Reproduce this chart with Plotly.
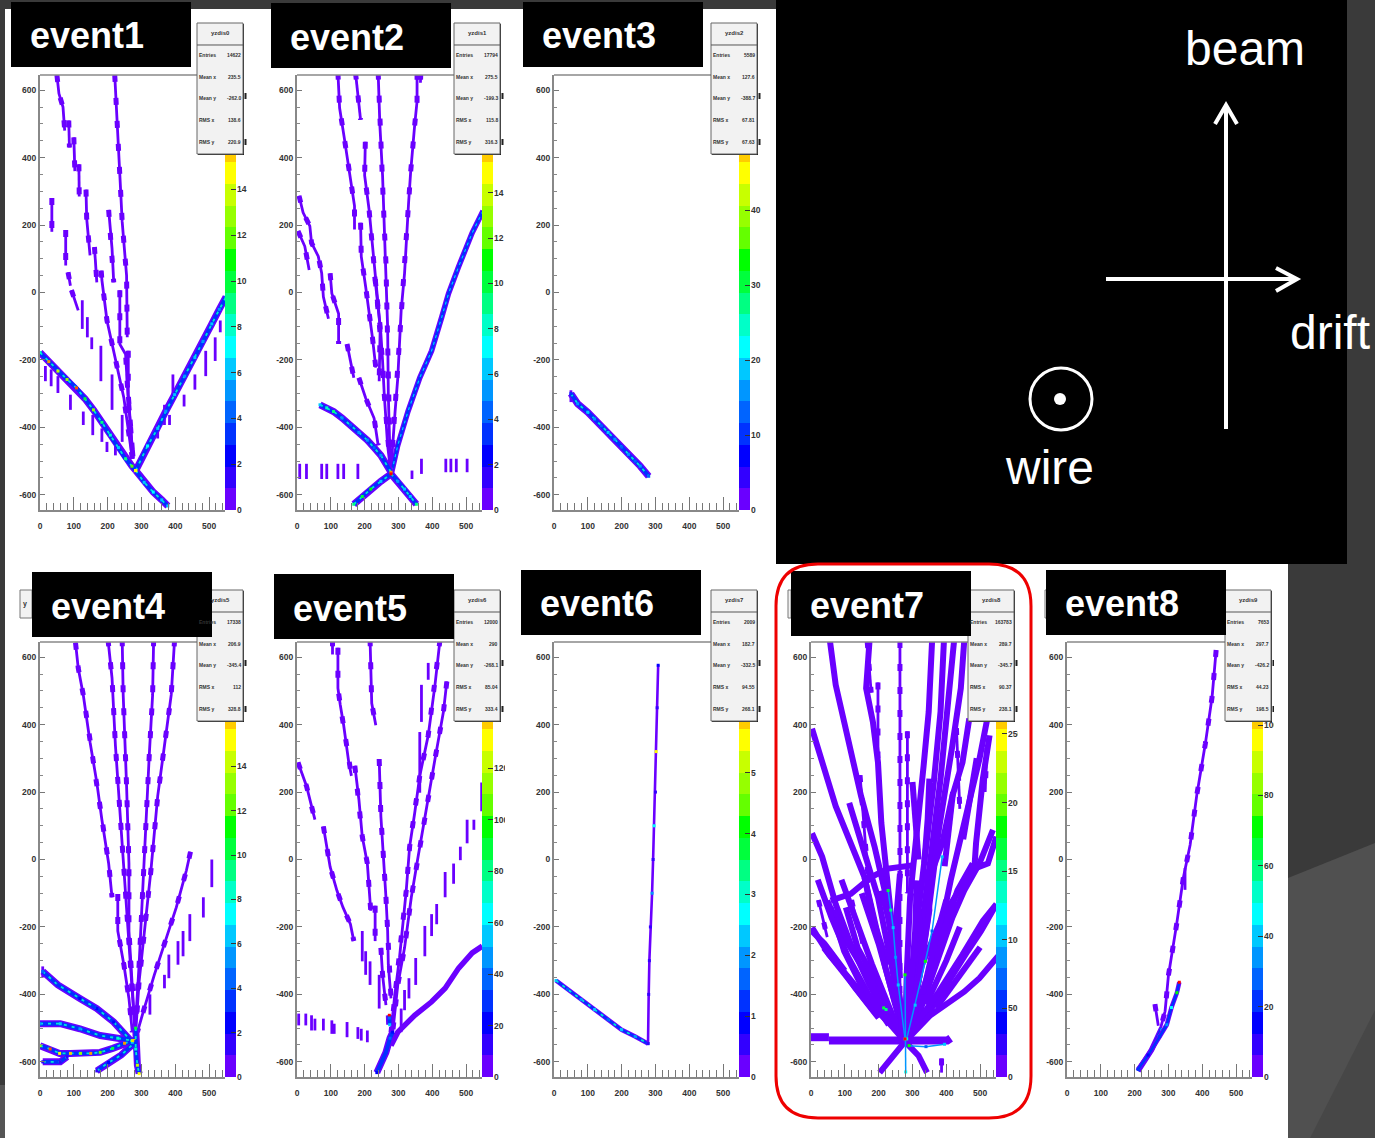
import plotly.graph_objects as go

W, H = 1375, 1138
PURPLE = "#6a00ff"
PALETTE = ["#6a00ff","#3200ff","#0000ff","#0032ff","#0064ff","#0096ff","#00c8ff","#00ffff",
           "#00ffc8","#00ff82","#00ff3c","#00ff00","#64ff00","#96ff00","#c8ff00","#ffff00",
           "#ffcc00","#ff9600","#ff5000","#ff0000"]

event_names = ["event1","event2","event3","event4","event5","event6","event7","event8"]
stat_titles = ["yzdis0","yzdis1","yzdis2","yzdis5","yzdis6","yzdis7","yzdis8","yzdis9"]
stat_labels = ["Entries","Mean x","Mean y","RMS x","RMS y"]
stat_entries = ["14622","17794","5589","17338","12000","2009","163783","7653"]
stat_mean_x = ["235.5","275.5","127.6","206.9","290","182.7","289.7","297.7"]
stat_mean_y = ["-262.0","-199.3","-388.7","-345.4","-268.1","-332.5","-345.7","-426.2"]
stat_rms_x = ["138.6","115.8","67.81","112","85.04","94.55","90.37","44.23"]
stat_rms_y = ["220.9","316.3","67.63","328.8","333.4","268.1","238.1","198.5"]

x_ticks = [0,100,200,300,400,500]
y_ticks = [-600,-400,-200,0,200,400,600]
cb_max = [19,19.2,58,19.6,169,7.15,317,123.6]
cb_ticks = [[0,2,4,6,8,10,12,14],[0,2,4,6,8,10,12,14],[0,10,20,30,40],
            [0,2,4,6,8,10,12,14],[0,20,40,60,80,100,120],[0,1,2,3,4,5],
            [0,50,100,150,200,250],[0,20,40,60,80,100]]

# ---- thin tracks (x, y) --------------------------------------------------
event1_tracks = [
 [(50,645),(56,590),(68,550),(73,480)],[(85,510),(87,430)],[(100,460),(103,360)],[(115,380),(116,285)],
 [(136,305),(138,220),(148,110)],[(161,135),(168,30)],[(181,65),(183,37),(198,-83),(223,-193),(248,-313),(273,-493)],
 [(221,645),(228,490),(236,350),(243,210),(256,50),(258,-133)],[(261,-173),(261,-303),(275,-493)],
 [(203,245),(213,130),(218,30)],[(236,7),(236,-153),(253,-183),(260,-303),(275,-490)],
 [(35,280),(35,180)],[(76,185),(76,80)],[(83,60),(90,20)],[(93,7),(113,-53)]]
event1_dashes = [(125,-23,-108),(140,-73,-133),(153,-133,-168),(180,-158,-263),(213,-243,-348),(243,-363,-443),
 (16,-218,-263),(33,-228,-278),(53,-248,-298),(90,-303,-348),(128,-353,-393),(156,-363,-423),(183,-403,-443),(198,-443,-473),(223,-453,-483),
 (393,-243,-303),(426,-303,-338),(458,-243,-288),(490,-173,-248),(518,-133,-203),(533,-83,-118),(368,-333,-393),(348,-403,-433),(383,-363,-393)]
event1_heavy = [[(0,-178,8),(26,-205,17),(53,-233,14),(80,-258,13),(108,-283,18),(133,-315,10),(158,-348,13),(183,-385,9),(208,-423,8),(232,-460,6),(253,-493,9),(272,-515,12),(283,-528,15)],
 [(283,-528,15),(308,-563,6),(335,-592,7),(360,-615,6),(378,-633,6)],
 [(283,-528,15),(318,-455,7),(348,-403,6),(372,-352,5),(398,-303,6),(428,-248,5),(458,-193,6),(482,-145,5),(508,-93,6),(530,-50,5),(550,-13,5)]]

event2_tracks = [
 [(121,652),(126,547),(140,457),(154,357),(170,257),(170,187)],[(173,652),(183,567),(188,512)],
 [(202,447),(200,347),(213,247),(225,117),(233,37),(240,-33),(248,-123),(253,-203),(258,-303),(268,-453),(276,-523)],
 [(240,652),(245,497),(253,347),(258,197),(263,87),(268,-103),(270,-303),(276,-523)],
 [(355,652),(355,567),(348,497),(340,417),(336,357),(330,267),(323,157),(318,57),(308,-53),(298,-253),(290,-353),(278,-523)],
 [(366,652),(365,622)],
 [(188,207),(190,107),(203,17),(213,-53),(223,-133),(233,-223)],
 [(230,47),(238,-23),(246,-103),(243,-263)],
 [(6,287),(18,237),(38,197),(43,147),(63,107),(73,57),(78,-13),(93,-78)],
 [(3,182),(23,137),(36,67)],
 [(98,57),(103,-3),(123,-63),(123,-153)],[(148,-153),(168,-253)],[(183,-253),(203,-313),(228,-373),(240,-453)]]
event2_dashes = [(8,-508,-553),(28,-508,-553),(73,-508,-553),(88,-508,-553),(121,-508,-553),(138,-508,-553),(180,-508,-553),
 (340,-528,-553),(368,-493,-538),(440,-493,-533),(455,-493,-533),(471,-493,-533),(503,-493,-533),(553,-493,-533)]
event2_heavy = [[(68,-333,6),(88,-342,8),(108,-353,9),(133,-372,5),(158,-393,4),(183,-415,5),(208,-438,5),(228,-460,4),(248,-483,5),(278,-533,17)],
 [(168,-628,9),(193,-605,10),(218,-583,11),(248,-560,6),(278,-538,19),(298,-560,5),(318,-583,6),(335,-605,6),(353,-628,9)]]
event2_light = [[(550,242),(518,177),(478,77),(448,-3),(428,-73),(398,-173),(363,-253),(328,-353),(298,-453),(280,-533)]]

event3_tracks = []
event3_dashes = [(50,-290,-325)]
event3_heavy = [[(50,-300,3),(70,-330,5),(100,-355,6),(120,-375,5),(140,-395,4),(160,-415,6),(180,-435,5),(200,-458,4),(220,-480,5),(240,-500,4),(255,-515,5),(280,-545,4)]]

event4_tracks = [
 [(105,643),(113,568),(128,488),(148,348),(168,228),(183,118),(203,-12),(213,-112)],
 [(230,-102),(230,-212),(248,-312),(263,-412),(273,-512)],
 [(201,653),(213,538),(223,338),(233,188),(243,58),(253,-112),(263,-232),(273,-392),(281,-512)],
 [(243,653),(246,488),(256,218),(263,-12),(263,-212),(275,-392),(281,-512)],
 [(336,653),(333,488),(323,308),(313,88),(303,-112),(293,-312),(281,-512)],
 [(398,653),(388,488),(368,338),(348,188),(328,-32),(308,-212),(293,-362),(283,-512)],
 [(445,23),(433,-32),(403,-142),(373,-232),(338,-342),(308,-442),(288,-512)]]
event4_dashes = [(508,0,-82),(483,-112,-172),(443,-162,-242),(423,-212,-287),(408,-242,-312),(381,-282,-352),(368,-342,-382),(8,-317,-350),(325,-400,-460)]
event4_heavy = [[(8,-332,4),(53,-372,3),(118,-412,2),(168,-442,2),(218,-482,2),(273,-542,6)],
 [(0,-487,5),(60,-487,6),(118,-502,5),(178,-522,3),(230,-530,8),(273,-537,14)],
 [(0,-552,13),(30,-562,18),(58,-575,15),(90,-575,16),(120,-575,13),(150,-575,17),(178,-572,12),(215,-560,10),(250,-545,17),(278,-537,16)],
 [(8,-600,1),(60,-600,1),(80,-585,1)],[(168,-627,1),(203,-602,2),(240,-580,1),(283,-540,3)],
 [(283,-500,10),(283,-562,8),(288,-610,14),(293,-635,15)]]

event5_tracks = [
 [(105,653),(105,608)],[(121,628),(121,508),(128,458),(138,398),(153,288),(161,248)],
 [(171,278),(183,178),(193,68),(208,-12),(218,-152)],
 [(216,653),(221,463),(233,398)],[(243,298),(248,128),(263,-112),(268,-212),(270,-312),(278,-412)],
 [(231,-137),(231,-242)],[(248,-262),(253,-342),(263,-432)],
 [(3,288),(28,218),(53,118)],[(78,98),(98,-22),(118,-92),(136,-142),(158,-192),(168,-242)],
 [(423,653),(408,518),(388,368),(363,248),(348,138),(333,38),(323,-92),(303,-292),(288,-412),(278,-512)],
 [(443,528),(433,438),(408,298),(383,158),(358,8),(338,-112),(318,-262),(298,-372),(283,-512)]]
event5_dashes = [(193,-212,-302),(203,-272,-342),(216,-302,-372),(243,-342,-442),
 (368,518,408),(363,378,198),(388,583,533),(546,228,143),(523,118,88),(503,118,48),(483,38,-2),(463,-12,-72),(438,-37,-112),(413,-132,-192),(398,-162,-227),(378,-197,-287),(351,-292,-372),(331,-352,-412),(318,-387,-447),(308,-442,-512),
 (5,-457,-492),(26,-457,-492),(43,-462,-507),(53,-472,-507),(78,-472,-507),(103,-477,-517),(110,-487,-517),(148,-482,-527),(180,-497,-532),(190,-502,-537),(208,-507,-542)]
event5_wide = [[(548,-257),(518,-277),(478,-322),(438,-382),(398,-422),(348,-462),(298,-512),(278,-552)]]
event5_heavy = [[(236,-632,2),(250,-600,3),(263,-572,3),(275,-530,4),(283,-512,2)],[(273,-462,19),(273,-470,4),(274,-490,6)]]

event6_light = []
event6_heavy = [[(6,-359,6),(40,-385,4),(80,-415,5),(120,-445,6),(160,-475,4),(200,-505,6),(240,-525,5),(278,-546,4)]]
event6_thin_core = [[(308,576,2),(305,450,1),(302,320,15),(300,200,1),(296,100,7),(293,0,1),(290,-100,5),(285,-200,1),(282,-300,1),(280,-400,1),(278,-546,1)]]

event7_tracks = [
 [(263,648),(263,-540)],[(285,380),(285,-100)],
 [(166,648),(178,495)],[(198,525),(198,300)],[(145,250),(170,-70)],[(22,-120),(48,-230)],[(386,-590),(386,-632)],
 [(120,-120),(150,-250)],[(70,-150),(100,-230)],[(430,390),(440,150)],[(520,330),(515,200)]]
event7_wide = [
 [(3,388),(73,158),(158,-52),(218,-312),(278,-540)],
 [(56,648),(73,518),(98,408),(123,288),(148,188),(188,38),(218,-92),(248,-312),(278,-540)],
 [(173,648),(163,508),(183,408),(198,288),(208,108),(218,-2),(238,-182),(258,-372),(278,-540)],
 [(113,168),(143,68),(173,-22),(198,-112),(238,-312),(278,-540)],
 [(358,648),(348,438),(333,278),(313,88),(293,-112),(283,-342),(278,-540)],
 [(393,648),(383,438),(363,228),(338,28),(313,-192),(293,-412),(278,-540)],
 [(423,648),(403,418),(383,238),(358,38),(328,-182),(298,-432),(278,-540)],
 [(453,648),(443,508),(418,338),(398,208),(378,88),(343,-192),(308,-432),(278,-540)],
 [(533,478),(498,298),(453,108),(413,-62),(368,-282),(308,-472),(278,-540)],
 [(468,418),(448,288),(418,188),(388,48),(348,-62),(320,-300),(278,-540)],
 [(528,368),(508,238),(488,48),(483,-27),(438,-92),(388,-172),(328,-312),(278,-540)],
 [(548,68),(523,-12),(483,-27)],
 [(538,88),(498,-12),(453,-92),(418,-172),(373,-302),(318,-462),(278,-540)],
 [(543,-142),(503,-212),(463,-272),(413,-352),(363,-432),(278,-540)],
 [(548,-132),(508,-182),(448,-282),(378,-392),(308,-492)],
 [(478,-12),(433,-92),(398,-192),(358,-312),(318,-432),(278,-540)],
 [(3,78),(33,8),(73,-132),(118,-252),(173,-372),(228,-472),(278,-540)],
 [(3,-202),(53,-282),(113,-352),(178,-432),(228,-482),(278,-540)],
 [(48,-122),(93,-222),(153,-322),(213,-412),(278,-540)],
 [(158,-52),(188,-192),(228,-312)],
 [(103,-142),(138,-262),(198,-372),(278,-540)],
 [(58,-142),(98,-272),(158,-392),(238,-482)],
 [(38,-262),(108,-352),(188,-452)],
 [(208,-92),(233,-192),(253,-312)],
 [(263,-42),(253,-162),(263,-352)],
 [(313,-62),(308,-212),(293,-412)],
 [(58,-122),(118,-102),(178,-52),(228,-27),(303,-17)],
 [(553,-287),(498,-352),(453,-392),(408,-422),(353,-462),(278,-540)],
 [(203,-632),(243,-582),(278,-540),(318,-582),(343,-632)],
 [(20,-60),(60,-170),(110,-290),(170,-400),(230,-490)],
 [(90,-60),(130,-170),(180,-310),(240,-460)],
 [(150,-100),(200,-250),(250,-430)],
 [(310,-100),(330,-250),(300,-460)],
 [(340,-30),(350,-150),(320,-350),(290,-500)],
 [(400,-120),(370,-230),(330,-400)],
 [(440,-200),(400,-300),(340,-430)],
 [(500,-260),(440,-340),(370,-440)],
 [(0,-210),(40,-250),(100,-330)],
 [(60,-280),(130,-380),(200,-470)],
 [(420,200),(405,80),(395,-20)],
 [(490,300),(470,170),(450,60)],
 [(350,240),(345,120),(335,-10)],
 [(300,230),(310,100),(318,0)]]
event7_band = [[(0,-527),(53,-527)],[(53,-537),(278,-537),(403,-537),(413,-530)]]
event7_heavy = [[(228,-92,10),(236,-150,9),(243,-202,6),(250,-290,5),(258,-372,6),(278,-532,8)],
 [(388,8,6),(358,-212,4),(338,-302,11),(308,-432,6),(283,-532,8)],
 [(278,-342,11),(278,-532,19),(280,-630,7)],[(215,-440,10),(222,-445,9)],
 [(290,-552,11),(340,-555,4),(395,-548,6)]]

event8_tracks = [[(441,621),(429,482),(409,343),(384,193),(364,43),(344,-54),(324,-193),(300,-343),(290,-450),(270,-525)],
 [(260,-429),(270,-493)]]
event8_dashes = [(349,-25,-90)]
event8_light = [[(280,-500),(250,-565),(210,-627)]]
event8_heavy = [[(332,-364,19),(325,-395,11),(309,-439,7),(295,-490,5),(274,-525,3),(240,-580,2),(210,-622,3)]]

panel_tracks = [event1_tracks,event2_tracks,event3_tracks,event4_tracks,event5_tracks,[],event7_tracks,event8_tracks]
panel_dashes = [event1_dashes,event2_dashes,event3_dashes,event4_dashes,event5_dashes,[],[],event8_dashes]
panel_light = [[],event2_light,[],[],[],event6_light,[],event8_light]
panel_wide = [[],[],[],[],event5_wide,[],event7_wide,[]]
panel_band = [[],[],[],[],[],[],event7_band,[]]
panel_heavy = [event1_heavy,event2_heavy,event3_heavy,event4_heavy,event5_heavy,event6_heavy,event7_heavy,event8_heavy]
panel_thin_core = [[],[],[],[],[],event6_thin_core,[],[]]

# ---- layout geometry (pixels of the page) -------------------------------
AX_LEFT = [40,297,554,40,297,554,811,1067]
AX_TOP = [75,75,75,642,642,642,642,642]
AX_W, AX_H, CB_W = 185, 435, 11
BOX_LEFT = [197,454,711,197,454,711,968,1225]
BOX_TOP = [23,23,23,590,590,590,590,590]
LABEL_BOX = [(11,2),(271,3),(523,2),(32,572),(274,574),(521,570),(791,571),(1046,570)]

def px(v): return v / W
def py(v): return 1 - v / H
def rect(x0, y0, x1, y1, fill, line=None, lw=0, layer="above"):
    return dict(type="rect", xref="paper", yref="paper", x0=px(x0), x1=px(x1), y0=py(y0), y1=py(y1),
                fillcolor=fill, line=dict(color=line or fill, width=lw), layer=layer)
def seg(points, color, lw):
    xs, ys = [p[0] for p in points], [p[1] for p in points]
    return dict(type="path", xref="paper", yref="paper", layer="above",
                path="M" + " L".join(f"{px(a):.5f},{py(b):.5f}" for a, b in zip(xs, ys)),
                line=dict(color=color, width=lw))

shapes, annos = [], []
def text(x, y, s, size, color="black", bold=False, anchor="center", font="Liberation Sans"):
    annos.append(dict(xref="paper", yref="paper", x=px(x), y=py(y), text=f"<b>{s}</b>" if bold else s,
                      showarrow=False, xanchor=anchor, yanchor="middle", borderpad=0, borderwidth=0,
                      font=dict(family=font, size=size, color=color)))

# backgrounds
shapes += [rect(0,1085,1288,1138,"#555555",layer="below"),
           rect(5,9,776,564,"white",layer="below"),
           rect(5,564,1288,1138,"white",layer="below")]
shapes.append(dict(type="path", xref="paper", yref="paper", layer="below",
    path=f"M{px(1288)},{py(878)} L{px(1375)},{py(843)} L{px(1375)},{py(1138)} L{px(1288)},{py(1138)} Z",
    fillcolor="#505050", line=dict(width=0)))
shapes.append(dict(type="path", xref="paper", yref="paper", layer="below",
    path=f"M{px(1375)},{py(1010)} L{px(1310)},{py(1138)} L{px(1375)},{py(1138)} Z",
    fillcolor="#474747", line=dict(width=0)))
shapes.append(rect(776,0,1347,564,"black",layer="below"))

fig = go.Figure()
layout_axes = {}
n = len(event_names)

def add_line(points_list, ax, color, lw, dash=None):
    xs, ys = [], []
    for pts in points_list:
        xs += [p[0] for p in pts] + [None]
        ys += [p[1] for p in pts] + [None]
    if xs:
        fig.add_trace(go.Scatter(x=xs, y=ys, mode="lines", line=dict(color=color, width=lw, dash=dash),
                                 hoverinfo="skip", showlegend=False, **ax))

TICKFONT = dict(family="Liberation Sans", size=8.5, color="#333333", weight="bold")
for i in range(n):
    a, b = 2*i+1, 2*i+2
    ax = dict(xaxis=f"x{a}", yaxis=f"y{a}")
    x0, y0 = AX_LEFT[i], AX_TOP[i]
    layout_axes[f"xaxis{a}"] = dict(domain=[px(x0), px(x0+AX_W)], range=[0,547], anchor=f"y{a}", mirror=False, automargin=False,
        tickmode="array", tickvals=x_ticks, ticktext=[str(v) for v in x_ticks], ticks="inside", ticklen=13, tickwidth=1.2,
        tickcolor="#777777", showline=True, linecolor="#888888", linewidth=2, showgrid=False, zeroline=False,
        minor=dict(dtick=20, ticks="inside", ticklen=7, tickwidth=1.2, tickcolor="#777777", showgrid=False),
        ticklabelstandoff=7, tickfont=TICKFONT, layer="above traces")
    layout_axes[f"yaxis{a}"] = dict(domain=[py(y0+AX_H), py(y0)], range=[-645,645], anchor=f"x{a}", automargin=False,
        tickmode="array", tickvals=y_ticks, ticktext=[str(v) for v in y_ticks], ticks="inside", ticklen=5, tickwidth=1.2,
        tickcolor="#777777", showline=True, linecolor="#888888", linewidth=2, showgrid=False, zeroline=False,
        minor=dict(dtick=50, ticks="inside", ticklen=3, tickwidth=1, tickcolor="#888888", showgrid=False),
        ticklabelstandoff=0, tickfont=TICKFONT, layer="above traces")
    shapes.append(seg([(x0, y0),(x0+AX_W, y0)], "#888888", 1.5))

    add_line(panel_wide[i], ax, PURPLE, 6 if i == 6 else 5.5)
    add_line(panel_band[i], ax, PURPLE, 8)
    add_line(panel_tracks[i], ax, PURPLE, 2.8)
    add_line(panel_tracks[i], ax, PURPLE, 5, "7px,16px")
    dash_pts = [[(d[0], d[1]), (d[0], d[2])] for d in panel_dashes[i]]
    add_line(dash_pts, ax, PURPLE, 2.8)
    add_line(panel_light[i], ax, PURPLE, 5.5)
    add_line(panel_light[i], ax, "#0032ff", 3)
    add_line(panel_light[i], ax, "#00c8ff", 1.2, "3px,4px")

    heavy = panel_heavy[i]
    thick = 1.5 if i == 6 else (4.5 if i in (5, 7) else 7)
    if i != 6:
        add_line(heavy, ax, PURPLE, thick)
    add_line(heavy, ax, "#0032ff" if i != 6 else "#0096ff", 1.5 if i == 6 else thick*0.55)
    if i in (0, 1, 2, 3, 5):
        add_line(heavy, ax, "#00e8d0", 1.8, "3px,5px")
    core_x, core_y, core_c = [], [], []
    for tr in heavy + panel_thin_core[i]:
        for p in tr:
            core_x.append(p[0]); core_y.append(p[1]); core_c.append(PALETTE[p[2]])
    add_line(panel_thin_core[i], ax, PURPLE, 2.6)
    if core_x:
        fig.add_trace(go.Scatter(x=core_x, y=core_y, mode="markers",
            marker=dict(symbol="square", size=3, color=core_c, line=dict(width=0)),
            hoverinfo="skip", showlegend=False, **ax))

    # colour bar
    levels = len(PALETTE)
    zmax = cb_max[i]
    cs = []
    for k, c in enumerate(PALETTE):
        cs += [[k/levels, c], [(k+1)/levels, c]]
    fig.add_trace(go.Heatmap(x=[0,1], y=[zmax*k/levels for k in range(levels+1)],
        z=[[k+0.5] for k in range(levels)], zmin=0, zmax=levels, colorscale=cs, showscale=False,
        hoverinfo="skip", xaxis=f"x{b}", yaxis=f"y{b}"))
    layout_axes[f"xaxis{b}"] = dict(domain=[px(x0+AX_W), px(x0+AX_W+CB_W)], range=[0,1], anchor=f"y{b}", automargin=False,
        visible=False, showgrid=False, zeroline=False)
    layout_axes[f"yaxis{b}"] = dict(domain=[py(y0+AX_H), py(y0)], range=[0,zmax], anchor=f"x{b}", side="right", automargin=False,
        tickmode="array", tickvals=cb_ticks[i], ticktext=[str(v) for v in cb_ticks[i]],
        ticks="inside", ticklen=5, tickwidth=1, tickcolor="#333333",
        showline=False, showgrid=False, zeroline=False, ticklabelstandoff=0, tickfont=TICKFONT)

    # stat box
    bx, by = BOX_LEFT[i], BOX_TOP[i]
    shapes.append(rect(bx+1, by+1, bx+47, by+132, "#222222"))
    shapes.append(rect(bx, by, bx+46, by+131, "#f2f2f2", "#666666", 1))
    shapes.append(seg([(bx, by+22),(bx+46, by+22)], "#555555", 1))
    text(bx+23, by+10, stat_titles[i], 6, "#333333", True)
    vals = [stat_entries[i], stat_mean_x[i], stat_mean_y[i], stat_rms_x[i], stat_rms_y[i]]
    for r, (lab, v) in enumerate(zip(stat_labels, vals)):
        yy = by + 32 + r*21.7
        text(bx+2, yy, lab, 5, "#333333", True, "left")
        text(bx+44, yy, v, 5, "#333333", True, "right")
    # slivers of colour-bar labels that stick out from behind the box
    for sy in (by+73, by+119):
        shapes.append(seg([(bx+48.5, sy-3),(bx+48.5, sy+3)], "#222222", 2))

# clipped colour-bar labels
shapes += [rect(505, 640, 521, 1000, "white"), rect(1018, 640, 1045, 1000, "white"), rect(1274, 640, 1288, 740, "white")]

# small boxes peeking from behind the labels
for (bx, by, bw, bh) in [(20,590,12,28),(788,590,3,28),(1045,590,2,28)]:
    shapes.append(rect(bx, by, bx+bw, by+bh, "#f2f2f2", "#777777", 1))
text(25, 604, "y", 7, "#333333", True)

# event labels
for name, (lx, ly) in zip(event_names, LABEL_BOX):
    shapes.append(rect(lx, ly, lx+180, ly+65, "black"))
    text(lx+19, ly+34, name, 36, "white", True, "left")

# red highlight
r = 42
x0r, y0r, x1r, y1r = 776, 564, 1031, 1118
shapes.append(dict(type="path", xref="paper", yref="paper", layer="above", line=dict(color="#ee0000", width=3),
    path=(f"M{px(x0r+r)},{py(y0r)} L{px(x1r-r)},{py(y0r)} Q{px(x1r)},{py(y0r)} {px(x1r)},{py(y0r+r)} "
          f"L{px(x1r)},{py(y1r-r)} Q{px(x1r)},{py(y1r)} {px(x1r-r)},{py(y1r)} L{px(x0r+r)},{py(y1r)} "
          f"Q{px(x0r)},{py(y1r)} {px(x0r)},{py(y1r-r)} L{px(x0r)},{py(y0r+r)} Q{px(x0r)},{py(y0r)} {px(x0r+r)},{py(y0r)} Z")))

# beam / drift / wire diagram
shapes += [seg([(1226,429),(1226,105)], "white", 4), seg([(1215,124),(1226,105),(1237,124)], "white", 4),
           seg([(1106,279),(1297,279)], "white", 4), seg([(1276,268),(1297,279),(1276,291)], "white", 4)]
shapes.append(dict(type="circle", xref="paper", yref="paper", x0=px(1030), x1=px(1092), y0=py(430), y1=py(368),
                   line=dict(color="white", width=3), fillcolor="rgba(0,0,0,0)", layer="above"))
shapes.append(dict(type="circle", xref="paper", yref="paper", x0=px(1054), x1=px(1066), y0=py(405), y1=py(393),
                   line=dict(width=0), fillcolor="white", layer="above"))
text(1245, 48, "beam", 48, "white")
text(1330, 333, "drift", 48, "white")
text(1049, 468, "wire", 48, "white")

fig.update_layout(width=W, height=H, margin=dict(l=0,r=0,t=0,b=0,pad=0,autoexpand=False), autosize=False,
                  paper_bgcolor="#3a3a3a", plot_bgcolor="rgba(0,0,0,0)", showlegend=False,
                  shapes=shapes, annotations=annos, **layout_axes)
fig.write_html("out.html", config={"displayModeBar": False}, post_script="document.body.style.margin='0';")
